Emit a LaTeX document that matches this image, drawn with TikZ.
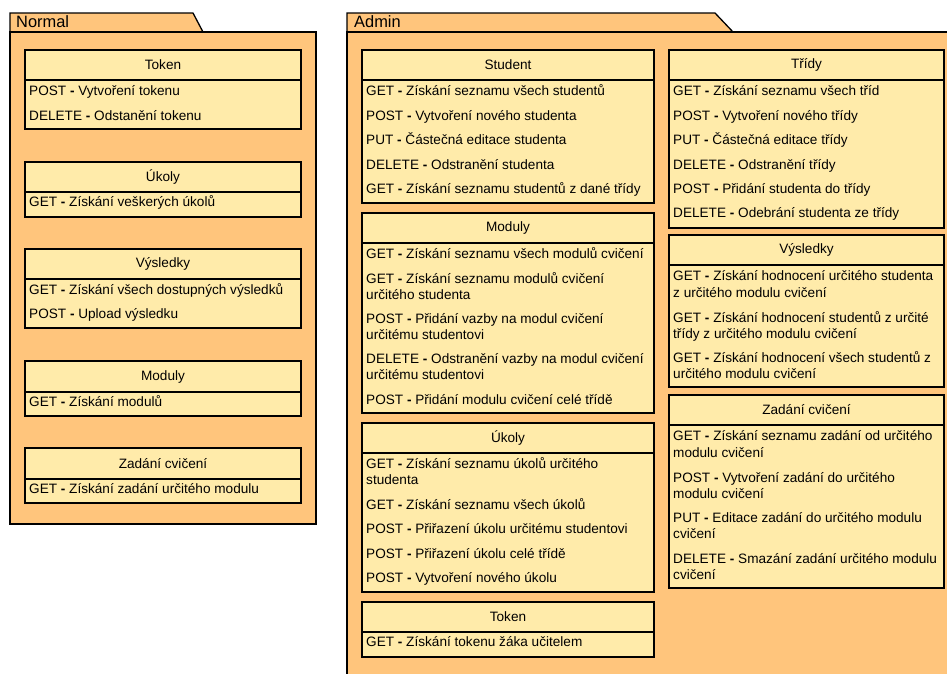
\documentclass[tikz,border=0pt]{standalone}
\usepackage{fontspec}
\setmainfont{Liberation Sans}
\definecolor{pkgfill}{HTML}{FFC57C}
\definecolor{clsfill}{HTML}{FFEBAA}
\tikzset{
  pkg/.style={draw=black, fill=pkgfill, line width=1.3pt, line join=miter},
  clsbox/.style={draw=black, fill=clsfill, line width=1.3pt, rectangle, inner sep=0pt, outer sep=0pt, font=\fontsize{13.6}{16.3}\selectfont},
  item/.style={inner sep=0pt, align=left, font=\fontsize{13.6}{16.3}\selectfont},
  pkglabel/.style={inner sep=0pt, anchor=base west, font=\fontsize{16.4}{19}\selectfont}
}
% #1 id, #2 x1, #3 x2, #4 ytop, #5 yhead, #6 ybottom, #7 title
\newcommand\klass[7]{%
  \node[clsbox, anchor=north west, minimum width={(#3-#2)*1pt}, minimum height={(#5-#4)*1pt}] (#1-h) at (#2,#4) {#7};
  \node[clsbox, anchor=north west, minimum width={(#3-#2)*1pt}, minimum height={(#6-#5)*1pt}] (#1-b) at (#2,#5) {};
}
% single-line item: #1 id, #2 x1, #3 y-center of line, #4 text
\newcommand\itm[4]{\node[item, anchor=base west] (#1) at (#2+4,#3+4.8) {#4};}
% two-line item: #3 y-center of first line
\newcommand\itmm[4]{\node[item, anchor=base west] (#1) at (#2+4,#3+4.8+16.3) {#4};}
\begin{document}
\begin{tikzpicture}[x=1pt,y=-1pt]
\useasboundingbox (0,0) rectangle (947,673);
% ---------- Normal package ----------
\draw[pkg] (10,32) -- (10,13) -- (193,13) -- (203,32) -- cycle;
\draw[pkg] (10,32) rectangle (316,524);
\node[pkglabel] (normal) at (16,27) {Normal};
\klass{ntok}{25}{301}{50}{80}{129}{Token}
\itm{ntok1}{25}{91}{POST \textbf{-} Vytvoření tokenu}
\itm{ntok2}{25}{115.5}{DELETE \textbf{-} Odstanění tokenu}
\klass{nuk}{25}{301}{162}{192}{217}{Úkoly}
\itm{nuk1}{25}{202}{GET \textbf{-} Získání veškerých úkolů}
\klass{nvys}{25}{301}{249}{279}{328}{Výsledky}
\itm{nvys1}{25}{290}{GET \textbf{-} Získání všech dostupných výsledků}
\itm{nvys2}{25}{314}{POST \textbf{-} Upload výsledku}
\klass{nmod}{25}{301}{361}{392}{416}{Moduly}
\itm{nmod1}{25}{401.7}{GET \textbf{-} Získání modulů}
\klass{nzad}{25}{301}{448}{479}{503}{Zadání cvičení}
\itm{nzad1}{25}{489}{GET \textbf{-} Získání zadání určitého modulu}
% ---------- Admin package ----------
\draw[pkg] (347,32) -- (347,13) -- (715,13) -- (733,32) -- cycle;
\draw[pkg] (347,32) rectangle (965,690);
\node[pkglabel] (admin) at (354,27) {Admin};
% left column
\klass{astu}{362}{654}{50}{80}{203}{Student}
\itm{astu1}{362}{91}{GET \textbf{-} Získání seznamu všech studentů}
\itm{astu2}{362}{115.7}{POST \textbf{-} Vytvoření nového studenta}
\itm{astu3}{362}{140}{PUT \textbf{-} Částečná editace studenta}
\itm{astu4}{362}{164.3}{DELETE \textbf{-} Odstranění studenta}
\itm{astu5}{362}{189}{GET \textbf{-} Získání seznamu studentů z dané třídy}
\klass{amod}{362}{654}{213}{243}{413}{Moduly}
\itm{amod1}{362}{253.3}{GET \textbf{-} Získání seznamu všech modulů cvičení}
\itmm{amod2}{362}{278.3}{GET \textbf{-} Získání seznamu modulů cvičení\\určitého studenta}
\itmm{amod3}{362}{318.3}{POST \textbf{-} Přidání vazby na modul cvičení\\určitému studentovi}
\itmm{amod4}{362}{358.3}{DELETE \textbf{-} Odstranění vazby na modul cvičení\\určitému studentovi}
\itm{amod5}{362}{400}{POST \textbf{-} Přidání modulu cvičení celé třídě}
\klass{auk}{362}{654}{423}{453}{592}{Úkoly}
\itmm{auk1}{362}{463.3}{GET \textbf{-} Získání seznamu úkolů určitého\\studenta}
\itm{auk2}{362}{505}{GET \textbf{-} Získání seznamu všech úkolů}
\itm{auk3}{362}{529}{POST \textbf{-} Přiřazení úkolu určitému studentovi}
\itm{auk4}{362}{553.3}{POST \textbf{-} Přiřazení úkolu celé třídě}
\itm{auk5}{362}{577.7}{POST \textbf{-} Vytvoření nového úkolu}
\klass{atok}{362}{654}{602}{632}{657}{Token}
\itm{atok1}{362}{641.7}{GET \textbf{-} Získání tokenu žáka učitelem}
% right column
\klass{atr}{669}{944}{50}{80}{228}{Třídy}
\itm{atr1}{669}{90.7}{GET \textbf{-} Získání seznamu všech tříd}
\itm{atr2}{669}{115.7}{POST \textbf{-} Vytvoření nového třídy}
\itm{atr3}{669}{140}{PUT \textbf{-} Částečná editace třídy}
\itm{atr4}{669}{164.3}{DELETE \textbf{-} Odstranění třídy}
\itm{atr5}{669}{189}{POST \textbf{-} Přidání studenta do třídy}
\itm{atr6}{669}{213}{DELETE \textbf{-} Odebrání studenta ze třídy}
\klass{avys}{669}{944}{235}{265}{387}{Výsledky}
\itmm{avys1}{669}{276}{GET \textbf{-} Získání hodnocení určitého studenta\\z určitého modulu cvičení}
\itmm{avys2}{669}{317.3}{GET \textbf{-} Získání hodnocení studentů z určité\\třídy z určitého modulu cvičení}
\itmm{avys3}{669}{357.7}{GET \textbf{-} Získání hodnocení všech studentů z\\určitého modulu cvičení}
\klass{azad}{669}{944}{395}{425}{588}{Zadání cvičení}
\itmm{azad1}{669}{436}{GET \textbf{-} Získání seznamu zadání od určitého\\modulu cvičení}
\itmm{azad2}{669}{477.3}{POST \textbf{-} Vytvoření zadání do určitého\\modulu cvičení}
\itmm{azad3}{669}{517.7}{PUT \textbf{-} Editace zadání do určitého modulu\\cvičení}
\itmm{azad4}{669}{558.3}{DELETE \textbf{-} Smazání zadání určitého modulu\\cvičení}
\end{tikzpicture}
\end{document}
